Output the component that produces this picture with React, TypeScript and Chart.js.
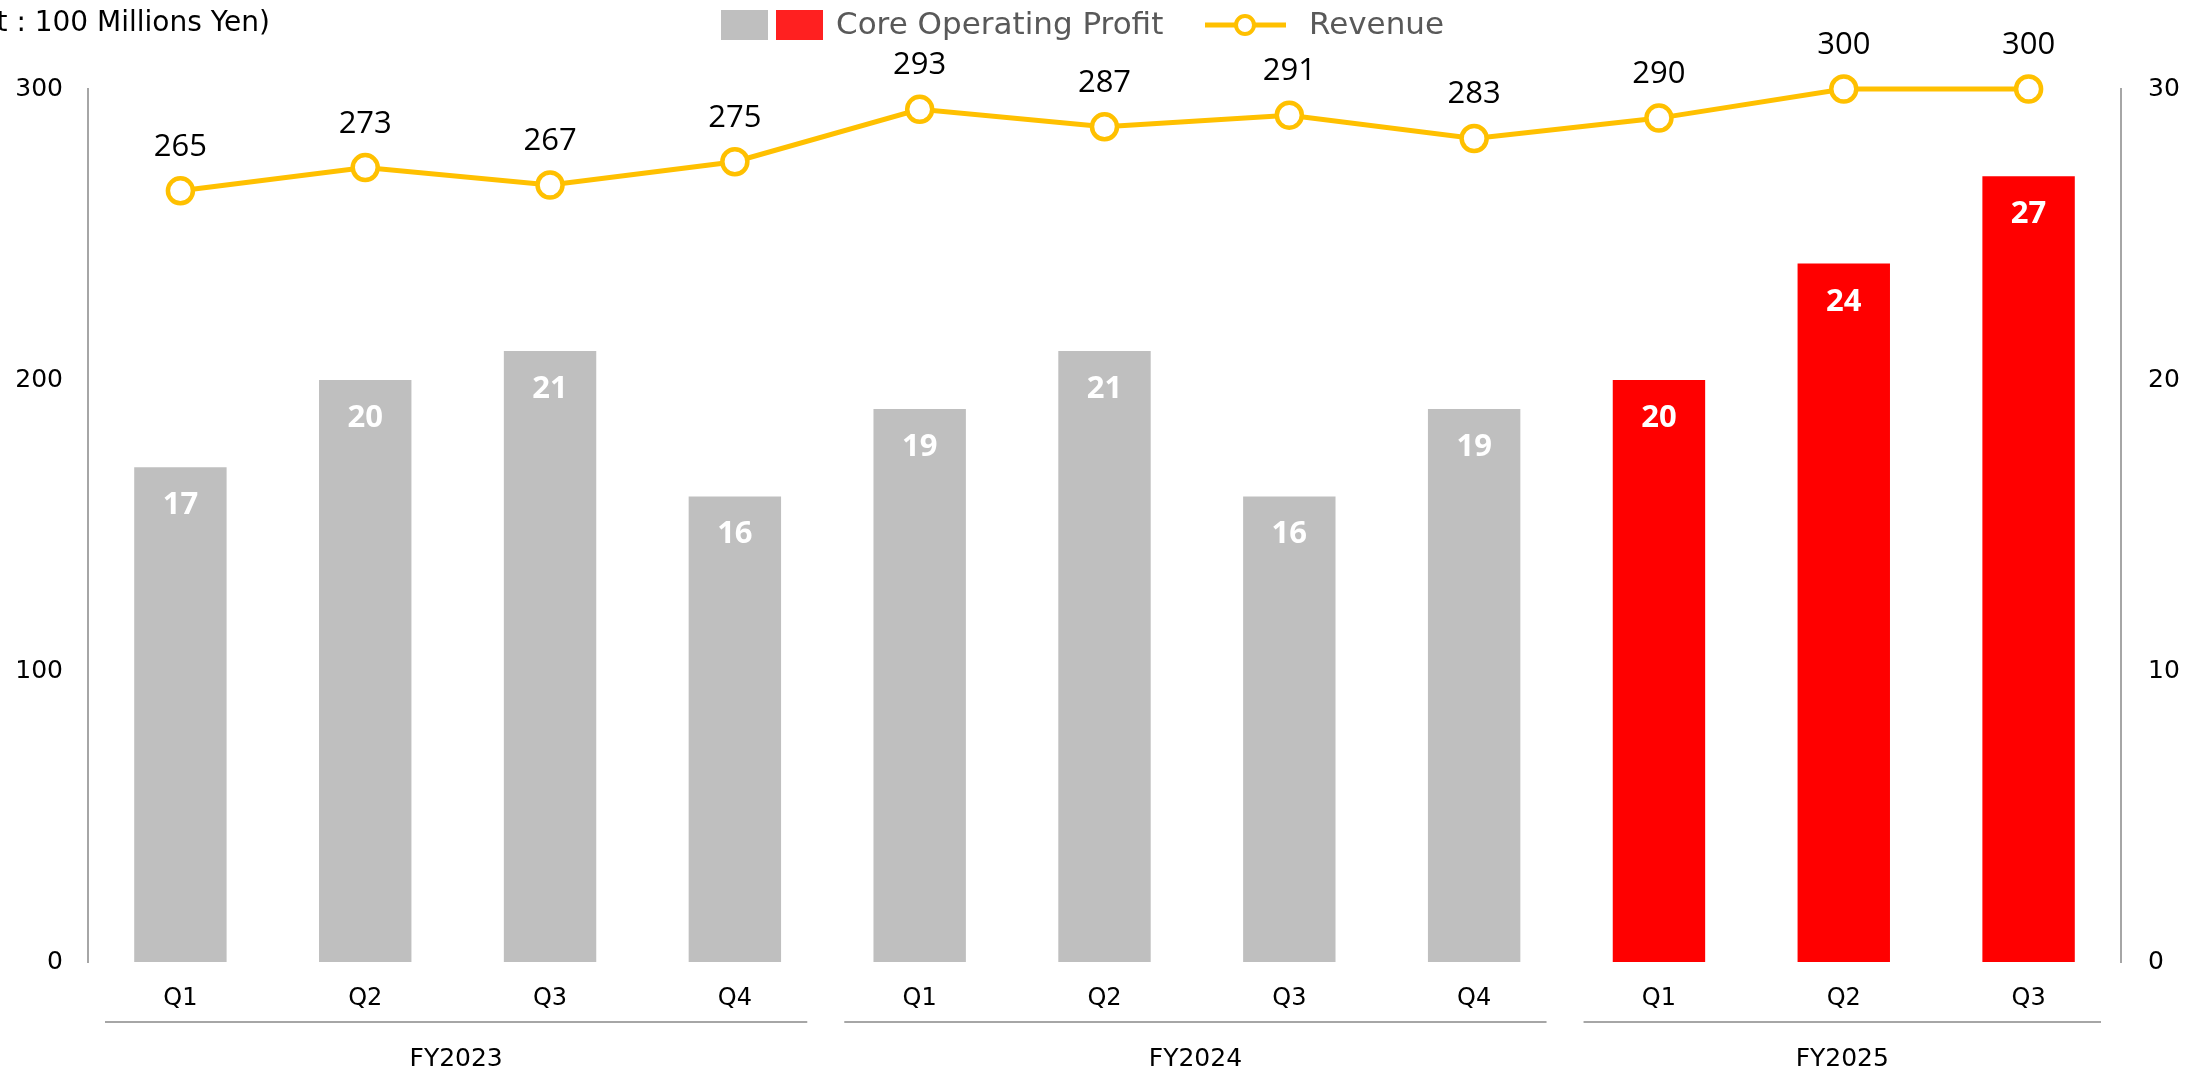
import React, { useEffect, useRef } from "react";
import { Chart, registerables } from "chart.js";

Chart.register(...registerables);

const quarters = ["Q1", "Q2", "Q3", "Q4", "Q1", "Q2", "Q3", "Q4", "Q1", "Q2", "Q3"];
const fiscalYears = [
  "FY2023", "FY2023", "FY2023", "FY2023",
  "FY2024", "FY2024", "FY2024", "FY2024",
  "FY2025", "FY2025", "FY2025",
];
const coreOperatingProfit = [17, 20, 21, 16, 19, 21, 16, 19, 20, 24, 27];
const revenue = [265, 273, 267, 275, 293, 287, 291, 283, 290, 300, 300];
const highlightYear = "FY2025";
const revenueAxis = { min: 0, max: 300, step: 100 };
const profitAxis = { min: 0, max: 30, step: 10 };
const unitLabel = "(Unit : 100 Millions Yen)";
const legendProfit = "Core Operating Profit";
const legendRevenue = "Revenue";

const GRAY = "#BFBFBF";
const RED = "#FF0000";
const LEGEND_RED = "#FF2020";
const GOLD = "#FFC000";
const AXIS = "#A6A6A6";
const AXIS_FONT = '"DejaVu Sans", Verdana, sans-serif';
const LABEL_FONT = '"Open Sans", "Noto Sans", sans-serif';

const overlayPlugin = {
  id: "overlay",
  afterDatasetsDraw(chart: any) {
    const ctx = chart.ctx;
    ctx.save();
    // bar labels
    const barMeta = chart.getDatasetMeta(0);
    ctx.font = `bold 31px ${LABEL_FONT}`;
    ctx.fillStyle = "#FFFFFF";
    ctx.textAlign = "center";
    ctx.textBaseline = "alphabetic";
    barMeta.data.forEach((el: any, i: number) => {
      ctx.fillText(String(coreOperatingProfit[i]), el.x, el.y + 47);
    });
    // line labels
    const lineMeta = chart.getDatasetMeta(1);
    ctx.font = `31px ${LABEL_FONT}`;
    ctx.fillStyle = "#000000";
    lineMeta.data.forEach((el: any, i: number) => {
      ctx.fillText(String(revenue[i]), el.x, el.y - 35);
    });
    ctx.restore();
  },
  afterDraw(chart: any) {
    const ctx = chart.ctx;
    const x = chart.scales.x;
    ctx.save();
    // group lines + fiscal year labels
    const step = x.getPixelForValue(1) - x.getPixelForValue(0);
    const groups: string[] = [];
    fiscalYears.forEach((fy) => {
      if (!groups.includes(fy)) groups.push(fy);
    });
    groups.forEach((fy) => {
      const i0 = fiscalYears.indexOf(fy);
      const i1 = fiscalYears.lastIndexOf(fy);
      const x0 = x.getPixelForValue(i0) - step / 2 + 17;
      const x1 = x.getPixelForValue(i1) + step / 2 - 20;
      ctx.strokeStyle = AXIS;
      ctx.lineWidth = 2;
      ctx.beginPath();
      ctx.moveTo(x0, 1022);
      ctx.lineTo(x1, 1022);
      ctx.stroke();
      ctx.font = `25px ${AXIS_FONT}`;
      ctx.fillStyle = "#000000";
      ctx.textAlign = "center";
      ctx.textBaseline = "middle";
      ctx.fillText(fy, (x0 + x1) / 2, 1059);
    });

    // unit title
    ctx.font = `28px ${AXIS_FONT}`;
    ctx.fillStyle = "#000000";
    ctx.textAlign = "right";
    ctx.textBaseline = "middle";
    ctx.fillText(unitLabel, 270, 24);

    // legend
    ctx.fillStyle = GRAY;
    ctx.fillRect(721, 10, 47, 30);
    ctx.fillStyle = LEGEND_RED;
    ctx.fillRect(776, 10, 47, 30);
    ctx.font = `31px ${AXIS_FONT}`;
    ctx.fillStyle = "#595959";
    ctx.textAlign = "left";
    ctx.textBaseline = "middle";
    ctx.fillText(legendProfit, 836, 26);

    ctx.strokeStyle = GOLD;
    ctx.lineWidth = 5;
    ctx.beginPath();
    ctx.moveTo(1205, 25);
    ctx.lineTo(1286, 25);
    ctx.stroke();
    ctx.beginPath();
    ctx.arc(1245, 25, 9, 0, Math.PI * 2);
    ctx.fillStyle = "#FFFFFF";
    ctx.fill();
    ctx.lineWidth = 4;
    ctx.stroke();
    ctx.fillStyle = "#595959";
    ctx.fillText(legendRevenue, 1309, 26);
    ctx.restore();
  },
};

export default function App() {
  const canvasRef = useRef<HTMLCanvasElement | null>(null);

  useEffect(() => {
    if (!canvasRef.current) return;
    const chart = new Chart(canvasRef.current, {
      type: "bar",
      data: {
        labels: quarters,
        datasets: [
          {
            type: "bar",
            label: legendProfit,
            data: coreOperatingProfit,
            yAxisID: "y1",
            backgroundColor: fiscalYears.map((fy) => (fy === highlightYear ? RED : GRAY)),
            borderWidth: 0,
            categoryPercentage: 1,
            barPercentage: 0.5,
            order: 2,
          } as any,
          {
            type: "line",
            label: legendRevenue,
            data: revenue,
            yAxisID: "y",
            borderColor: GOLD,
            borderWidth: 5,
            pointRadius: 12.5,
            pointBorderWidth: 4.5,
            pointBackgroundColor: "#FFFFFF",
            pointBorderColor: GOLD,
            tension: 0,
            clip: false,
            order: 1,
          } as any,
        ],
      },
      options: {
        animation: false,
        responsive: true,
        maintainAspectRatio: false,
        layout: { padding: { top: 89, left: 0, right: 0, bottom: 0 } },
        plugins: {
          legend: { display: false },
          tooltip: { enabled: false },
          title: { display: false },
        },
        scales: {
          x: {
            grid: { display: false, drawTicks: false },
            border: { display: false },
            ticks: {
              color: "#000000",
              font: { family: AXIS_FONT, size: 24 },
              padding: 22,
              maxRotation: 0,
              autoSkip: false,
            },
            afterFit: (s: any) => {
              s.height = 109;
            },
          },
          y: {
            position: "left",
            min: revenueAxis.min,
            max: revenueAxis.max,
            grid: { display: false, drawTicks: false },
            border: { display: true, color: AXIS, width: 2 },
            ticks: {
              stepSize: revenueAxis.step,
              color: "#000000",
              font: { family: AXIS_FONT, size: 25 },
              padding: 25,
            },
            afterFit: (s: any) => {
              s.width = 88;
            },
          },
          y1: {
            position: "right",
            min: profitAxis.min,
            max: profitAxis.max,
            grid: { display: false, drawTicks: false },
            border: { display: true, color: AXIS, width: 2 },
            ticks: {
              stepSize: profitAxis.step,
              color: "#000000",
              font: { family: AXIS_FONT, size: 25 },
              padding: 27,
            },
            afterFit: (s: any) => {
              s.width = 64;
            },
          },
        },
      },
      plugins: [overlayPlugin],
    });
    return () => chart.destroy();
  }, []);

  return (
    <div style={{ position: "fixed", left: 0, top: 0, width: 2185, height: 1071, background: "#FFFFFF" }}>
      <canvas ref={canvasRef} />
    </div>
  );
}
